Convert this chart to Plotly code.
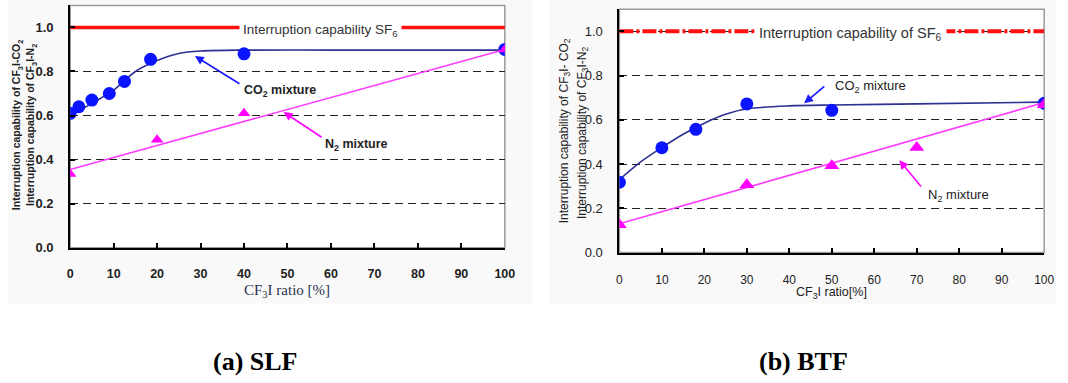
import plotly.graph_objects as go

# ---------------- data ----------------
# (a) SLF
slf_co2_x = [0, 2, 5, 9, 12.5, 18.5, 40, 100]
slf_co2_y = [0.61, 0.64, 0.67, 0.70, 0.755, 0.855, 0.88, 0.90]
slf_n2_x = [0, 20, 40, 100]
slf_n2_y = [0.335, 0.49, 0.61, 0.90]
slf_co2_fit_x = [0, 5, 10, 15, 20, 25, 30, 40, 60, 100]
slf_co2_fit_y = [0.60, 0.655, 0.715, 0.80, 0.85, 0.882, 0.893, 0.897, 0.897, 0.897]
slf_n2_fit_x = [0, 100]
slf_n2_fit_y = [0.355, 0.90]

# (b) BTF
btf_co2_x = [0, 10, 18, 30, 50, 100]
btf_co2_y = [0.318, 0.474, 0.557, 0.672, 0.643, 0.675]
btf_n2_x = [0, 30, 50, 70, 100]
btf_n2_y = [0.126, 0.307, 0.393, 0.475, 0.668]
btf_co2_fit_x = [0, 5, 10, 15, 20, 25, 30, 40, 50, 70, 100]
btf_co2_fit_y = [0.33, 0.41, 0.475, 0.535, 0.585, 0.625, 0.65, 0.663, 0.667, 0.672, 0.68]
btf_n2_fit_x = [0, 100]
btf_n2_fit_y = [0.13, 0.678]

# SF6 reference level
sf6_x = [0, 100]
sf6_y = [1.0, 1.0]

x_ticks = [0, 10, 20, 30, 40, 50, 60, 70, 80, 90, 100]
y_ticks = [0.0, 0.2, 0.4, 0.6, 0.8, 1.0]
y_ticklabels = ["0.0", "0.2", "0.4", "0.6", "0.8", "1.0"]

W, H = 1068, 383


def px(x):
    return x / W


def py(y):
    return 1 - y / H


CIRCLE = "#0b14ff"
CURVE = "#2e3192"
MAGENTA = "#ff00ff"
N2LINE = "#ff3cff"
RED = "#ff1010"
TXT = "#222222"

fig = go.Figure()

# ---------- panel (a) ----------
fig.add_trace(go.Scatter(x=sf6_x, y=sf6_y, mode="lines", xaxis="x", yaxis="y",
                         line=dict(color=RED, width=3.5), hoverinfo="skip"))
fig.add_trace(go.Scatter(x=slf_co2_fit_x, y=slf_co2_fit_y, mode="lines", xaxis="x", yaxis="y",
                         line=dict(color=CURVE, width=1.6, shape="spline", smoothing=0.8)))
fig.add_trace(go.Scatter(x=slf_co2_x, y=slf_co2_y, mode="markers", xaxis="x", yaxis="y",
                         marker=dict(symbol="circle", size=13, color=CIRCLE)))
fig.add_trace(go.Scatter(x=slf_n2_fit_x, y=slf_n2_fit_y, mode="lines", xaxis="x", yaxis="y",
                         line=dict(color=N2LINE, width=1.6)))
fig.add_trace(go.Scatter(x=slf_n2_x, y=slf_n2_y, mode="markers", xaxis="x", yaxis="y",
                         marker=dict(symbol="triangle-up", size=11, color=MAGENTA)))

# ---------- panel (b) ----------
fig.add_trace(go.Scatter(x=sf6_x, y=sf6_y, mode="lines", xaxis="x2", yaxis="y2",
                         line=dict(color=RED, width=4, dash="14px,3px,3px,3px"), hoverinfo="skip"))
fig.add_trace(go.Scatter(x=btf_co2_fit_x, y=btf_co2_fit_y, mode="lines", xaxis="x2", yaxis="y2",
                         line=dict(color=CURVE, width=1.6, shape="spline", smoothing=0.8)))
fig.add_trace(go.Scatter(x=btf_co2_x, y=btf_co2_y, mode="markers", xaxis="x2", yaxis="y2",
                         marker=dict(symbol="circle", size=13, color=CIRCLE)))
fig.add_trace(go.Scatter(x=btf_n2_fit_x, y=btf_n2_fit_y, mode="lines", xaxis="x2", yaxis="y2",
                         line=dict(color=N2LINE, width=1.6)))
fig.add_trace(go.Scatter(x=btf_n2_x, y=btf_n2_y, mode="markers", xaxis="x2", yaxis="y2",
                         marker=dict(symbol="triangle-up", size=13, color=MAGENTA)))


def xaxis_style(domain, bold, anchor):
    return dict(
        domain=domain, range=[0, 100], anchor=anchor,
        tickvals=x_ticks, ticks="inside", ticklen=5, tickwidth=1.5, tickcolor="black",
        ticklabelstandoff=13 if bold else 15,
        showline=True, linecolor="black", linewidth=2,
        showgrid=False, zeroline=False,
        tickfont=dict(family="Arial", size=12.5 if bold else 12, color=TXT,
                      weight="bold" if bold else "normal"),
    )


def yaxis_style(domain, bold, anchor):
    return dict(
        domain=domain, range=[0, 1.1], anchor=anchor,
        tickvals=y_ticks, ticktext=y_ticklabels,
        ticks="inside", ticklen=5, tickwidth=1.5, tickcolor="black",
        ticklabelstandoff=12,
        showline=True, linecolor="black", linewidth=2,
        showgrid=True, gridcolor="#222222", gridwidth=1, griddash="8px,5px",
        zeroline=False,
        tickfont=dict(family="Arial", size=13, color=TXT,
                      weight="bold" if bold else "normal"),
    )


fig.update_layout(
    width=W, height=H,
    margin=dict(l=0, r=0, t=0, b=0),
    paper_bgcolor="white", plot_bgcolor="white",
    showlegend=False,
    xaxis=xaxis_style([px(68), px(508)], True, "y"),
    yaxis=yaxis_style([py(253), py(5.5)], True, "x"),
    xaxis2=xaxis_style([px(624), px(1054)], False, "y2"),
    yaxis2=yaxis_style([py(258), py(9.4)], False, "x2"),
)

shapes = [
    # faint backdrop behind each plot
    dict(type="rect", xref="paper", yref="paper", x0=px(5), x1=px(536), y0=py(310), y1=1,
         fillcolor="#f9f9f9", line=dict(width=0), layer="below"),
    dict(type="rect", xref="paper", yref="paper", x0=px(553), x1=px(1066), y0=py(310), y1=1,
         fillcolor="#f9f9f9", line=dict(width=0), layer="below"),
    # grey frame around each plot area
    dict(type="rect", xref="x domain", yref="y domain", x0=0, x1=1, y0=0, y1=1,
         line=dict(color="#9a9a9a", width=1.5), fillcolor="white", layer="below"),
    dict(type="rect", xref="x2 domain", yref="y2 domain", x0=0, x1=1, y0=0, y1=1,
         line=dict(color="#9a9a9a", width=1.5), fillcolor="white", layer="below"),
]
fig.update_layout(shapes=shapes)

ann = []
C = dict(xanchor="center", yanchor="middle")

# SF6 labels (white box breaks the red line)
ann.append(dict(x=57.6, y=1.0, xref="x", yref="y", yshift=-3, showarrow=False,
                text="Interruption capability SF<sub>6</sub>",
                font=dict(family="Arial", size=13.5, color="#333333"),
                bgcolor="white", borderpad=3, **C))
ann.append(dict(x=54.5, y=1.0, xref="x2", yref="y2", yshift=-3, showarrow=False,
                text="Interruption capability of SF<sub>6</sub>",
                font=dict(family="Arial", size=14.5, color="#333333"),
                bgcolor="white", borderpad=4, **C))

# mixture labels
ann.append(dict(x=48.2, y=0.713, xref="x", yref="y", showarrow=False,
                text="CO<sub>2</sub> mixture",
                font=dict(family="Arial", size=12.5, color=TXT, weight="bold"), **C))
ann.append(dict(x=65.9, y=0.464, xref="x", yref="y", showarrow=False,
                text="N<sub>2</sub> mixture",
                font=dict(family="Arial", size=12.5, color=TXT, weight="bold"), **C))
ann.append(dict(x=59.2, y=0.752, xref="x2", yref="y2", showarrow=False,
                text="CO<sub>2</sub> mixture",
                font=dict(family="Arial", size=13, color=TXT), **C))
ann.append(dict(x=79.9, y=0.26, xref="x2", yref="y2", showarrow=False,
                text="N<sub>2</sub> mixture",
                font=dict(family="Arial", size=13, color=TXT), **C))


# pointer arrows
def arrow(xref, yref, head, tail, color):
    return dict(x=head[0], y=head[1], ax=tail[0], ay=tail[1], xref=xref, yref=yref,
                axref=xref, ayref=yref, text="", showarrow=True,
                arrowhead=2, arrowsize=1.1, arrowwidth=1.6, arrowcolor=color)


ann.append(arrow("x", "y", (28.7, 0.87), (39.3, 0.74), "#1a1aff"))
ann.append(arrow("x", "y", (49.1, 0.616), (58.2, 0.497), MAGENTA))
ann.append(arrow("x2", "y2", (43.5, 0.675), (48.6, 0.757), "#1a1aff"))
ann.append(arrow("x2", "y2", (65.9, 0.417), (71.3, 0.292), MAGENTA))

# y-axis titles
ann.append(dict(x=px(15), y=py(128), xref="paper", yref="paper", showarrow=False, textangle=-90,
                text="Interruption capability of CF<sub>3</sub>I-CO<sub>2</sub>",
                font=dict(family="Arial", size=10.5, color=TXT, weight="bold"), **C))
ann.append(dict(x=px(29), y=py(128), xref="paper", yref="paper", showarrow=False, textangle=-90,
                text="Interruption capability of CF<sub>3</sub>I-N<sub>2</sub>",
                font=dict(family="Arial", size=10.5, color=TXT, weight="bold"), **C))
ann.append(dict(x=px(569), y=py(134), xref="paper", yref="paper", showarrow=False, textangle=-90,
                text="Interruption capability of CF<sub>3</sub>I- CO<sub>2</sub>",
                font=dict(family="Arial", size=12, color=TXT), **C))
ann.append(dict(x=px(587), y=py(136), xref="paper", yref="paper", showarrow=False, textangle=-90,
                text="Interruption capability of CF<sub>3</sub>I-N<sub>2</sub>",
                font=dict(family="Arial", size=12, color=TXT), **C))

# x-axis titles
ann.append(dict(x=px(287), y=py(297), xref="paper", yref="paper", showarrow=False,
                text="CF<sub>3</sub>I ratio [%]",
                font=dict(family="Liberation Serif", size=15, color="#2a3350"), **C))
ann.append(dict(x=px(839), y=py(299), xref="paper", yref="paper", showarrow=False,
                text="CF<sub>3</sub>I ratio[%]",
                font=dict(family="Arial", size=12.5, color=TXT), **C))

# panel captions
ann.append(dict(x=px(256), y=py(369), xref="paper", yref="paper", showarrow=False,
                text="<b>(a) SLF</b>",
                font=dict(family="Liberation Serif", size=26, color="black"), **C))
ann.append(dict(x=px(810), y=py(369), xref="paper", yref="paper", showarrow=False,
                text="<b>(b) BTF</b>",
                font=dict(family="Liberation Serif", size=26, color="black"), **C))

fig.update_layout(annotations=ann)

fig.write_html("out.html")
